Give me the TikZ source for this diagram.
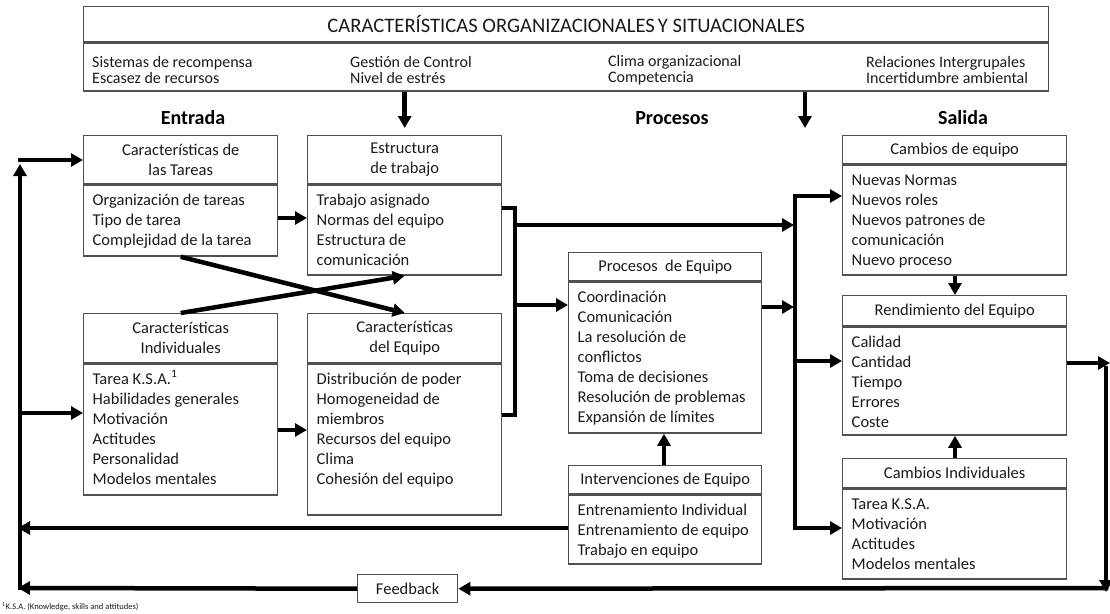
\documentclass[tikz,border=0pt]{standalone}
\usepackage{fontspec}
\setmainfont{Carlito}
\usetikzlibrary{arrows.meta}

\definecolor{boxline}{HTML}{505050}
\definecolor{ink}{HTML}{1A1A1A}

\newcommand{\bodyfont}{\fontsize{16.5}{20}\selectfont}
\newcommand{\topfont}{\fontsize{16}{16.5}\selectfont}
\newcommand{\titlefont}{\fontsize{20.6}{24}\selectfont}
\newcommand{\headfont}{\fontsize{20}{24}\selectfont\bfseries}
% body of a box: width, height, lines
\newcommand{\itemlist}[3]{\parbox[t][#2][t]{#1}{\bodyfont\leftskip=9pt\rule{0pt}{20pt}#3}}

\begin{document}
\begin{tikzpicture}[x=1pt,y=-1pt,
  hd/.style={draw=boxline, line width=1.4pt, inner sep=0pt, anchor=north west,
             align=center, font=\bodyfont, text=ink},
  bd/.style={draw=boxline, line width=1.4pt, inner sep=0pt, anchor=north west, text=ink},
  topitem/.style={anchor=west, align=left, font=\topfont, inner sep=0pt, text=ink},
  heading/.style={font=\headfont, text=black},
  arr/.style={line width=4.5pt, -{Triangle[length=12pt,width=13pt]}},
  wire/.style={line width=4.5pt, line join=miter}]
\useasboundingbox (0,0) rectangle (1110,613);

% ---- organisational frame
\node[hd, minimum width=965pt, minimum height=35pt, font=\titlefont] (toph) at (83,6)
  {CARACTERÍSTICAS ORGANIZACIONALES\kern-1.5pt\ Y SITUACIONALES};
\node[bd, minimum width=965pt, minimum height=48pt] (topb) at (toph.south west) {};
\node[topitem] (tc1) at (92,70) {Sistemas de recompensa\\Escasez de recursos};
\node[topitem] (tc2) at (350,70) {Gestión de Control\\Nivel de estrés};
\node[topitem] (tc3) at (608,70) {Clima organizacional\\Competencia};
\node[topitem] (tc4) at (866,70) {Relaciones Intergrupales\\Incertidumbre ambiental};

% ---- column headings
\node[heading] (hin) at (193,118) {Entrada};
\node[heading] (hproc) at (672,118) {Procesos};
\node[heading] (hout) at (963,118) {Salida};

% ---- input boxes
\node[hd, minimum width=194pt, minimum height=48pt] (tareash) at (83,135)
  {Características de\\las Tareas};
\node[bd] (tareasb) at (tareash.south west)
  {\itemlist{194pt}{71pt}{Organización de tareas\\Tipo de tarea\\Complejidad de la tarea}};

\node[hd, minimum width=194pt, minimum height=48pt] (estrh) at (307,135)
  {Estructura\\de trabajo};
\node[bd] (estrb) at (estrh.south west)
  {\itemlist{194pt}{90pt}{Trabajo asignado\\Normas del equipo\\Estructura de\\comunicación}};

\node[hd, minimum width=194pt, minimum height=49pt] (indh) at (83,313)
  {Características\\Individuales};
\node[bd] (indb) at (indh.south west)
  {\itemlist{194pt}{131pt}{Tarea K.S.A.\textsuperscript{1}\\Habilidades generales\\Motivación\\Actitudes\\Personalidad\\Modelos mentales}};

\node[hd, minimum width=194pt, minimum height=49pt] (equih) at (307,313)
  {Características\\del Equipo};
\node[bd] (equib) at (equih.south west)
  {\itemlist{194pt}{151pt}{Distribución de poder\\Homogeneidad de\\miembros\\Recursos del equipo\\Clima\\Cohesión del equipo}};

% ---- process boxes
\node[hd, minimum width=193pt, minimum height=28pt] (proch) at (568,252)
  {Procesos\ \ de Equipo};
\node[bd] (procb) at (proch.south west)
  {\itemlist{193pt}{151pt}{Coordinación\\Comunicación\\La resolución de\\conflictos\\Toma de decisiones\\Resolución de problemas\\Expansión de límites}};

\node[hd, minimum width=193pt, minimum height=28pt] (inth) at (568,465)
  {Intervenciones de Equipo};
\node[bd] (intb) at (inth.south west)
  {\itemlist{193pt}{69pt}{Entrenamiento Individual\\Entrenamiento de equipo\\Trabajo en equipo}};

% ---- output boxes
\node[hd, minimum width=224pt, minimum height=28pt] (cambh) at (842,135)
  {Cambios de equipo};
\node[bd] (cambb) at (cambh.south west)
  {\itemlist{224pt}{110pt}{Nuevas Normas\\Nuevos roles\\Nuevos patrones de\\comunicación\\Nuevo proceso}};

\node[hd, minimum width=224pt, minimum height=30pt] (rendh) at (842,295)
  {Rendimiento del Equipo};
\node[bd] (rendb) at (rendh.south west)
  {\itemlist{224pt}{108pt}{Calidad\\Cantidad\\Tiempo\\Errores\\Coste}};

\node[hd, minimum width=224pt, minimum height=29pt] (indvh) at (842,458)
  {Cambios Individuales};
\node[bd] (indvb) at (indvh.south west)
  {\itemlist{224pt}{90pt}{Tarea K.S.A.\\Motivación\\Actitudes\\Modelos mentales}};

% ---- feedback
\node[hd, minimum width=100pt, minimum height=28pt] (fb) at (357,574) {Feedback};

\node[anchor=west, inner sep=0pt, font=\fontsize{8.5}{10}\selectfont, text=ink] (fn) at (2,607)
  {\textsuperscript{1}K.S.A. (Knowledge, skills and attitudes)};

% ---- route points
\coordinate (drop) at (805,128);

% ---- connectors
\draw[arr, shorten >=7pt] (topb.south -| estrh.north) -- (estrh.north);
\draw[arr] (topb.south -| drop) -- (drop);

\draw[arr] (tareasb.east |- 0,218) -- (estrb.west |- 0,218);
\draw[arr] (indb.east |- 0,430) -- (equib.west |- 0,430);
\draw[arr] (tareasb.south) -- (equih.north);
\draw[arr] (indh.north) -- (estrb.south);

\draw[wire] (estrb.east |- 0,208) -| (515,415) -- (equib.east |- 0,415);
\draw[arr] (515,225) -- (794,225);
\draw[arr] (515,305) -- (procb.west |- 0,305);
\draw[arr] (procb.east |- 0,307) -- (794,307);

\draw[wire] (795,193.75) -- (795,530.25);
\draw[arr] (792.75,196) -- (cambb.west |- 0,196);
\draw[arr] (792.75,361) -- (rendb.west |- 0,361);
\draw[arr] (792.75,528) -- (indvb.west |- 0,528);

\draw[arr] (cambb.south -| 955,0) -- (rendh.north -| 955,0);
\draw[arr] (indvh.north -| 955,0) -- (rendb.south -| 955,0);
\draw[arr] (inth.north -| 664,0) -- (procb.south -| 664,0);

% ---- feedback loop
\draw[arr] (rendb.east |- 0,363) -- (1110,363);
\draw[arr] (1106,366) -- (1106,592);
\draw[arr] (1108.25,588) -- (fb.east);
\draw[arr] (fb.west) -- (18,588);
\draw[arr] (intb.west |- 0,528) -- (18,528);
\draw[arr] (20,590.25) -- (20,164);
\draw[arr] (17.75,160) -- (tareash.west |- 0,160);
\draw[arr] (20,413) -- (indb.west |- 0,413);
\end{tikzpicture}
\end{document}
